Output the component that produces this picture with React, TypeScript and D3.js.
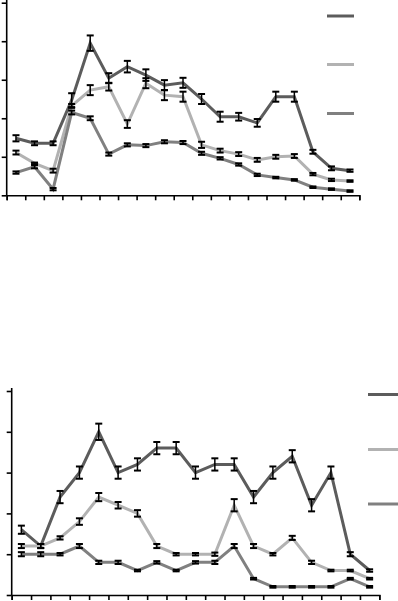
import React, { useEffect, useRef } from "react";
import * as d3 from "d3";

const categories = d3.range(1, 20).map(String);
const tickValues = [0, 1, 2, 3, 4, 5];

// Top chart
const topDark = [1.48, 1.35, 1.35, 2.47, 3.95, 3.04, 3.34, 3.12, 2.86, 2.92, 2.5, 2.04, 2.04, 1.88, 2.56, 2.56, 1.13, 0.7, 0.64];
const topDarkErr = [0.08, 0.05, 0.05, 0.18, 0.2, 0.13, 0.15, 0.15, 0.13, 0.13, 0.13, 0.13, 0.1, 0.1, 0.13, 0.13, 0.05, 0.05, 0.03];
const topLight = [1.11, 0.83, 0.64, 2.32, 2.73, 2.82, 1.85, 2.91, 2.6, 2.56, 1.31, 1.16, 1.07, 0.92, 1.0, 1.02, 0.55, 0.4, 0.37];
const topLightErr = [0.05, 0.02, 0.05, 0.05, 0.13, 0.1, 0.1, 0.13, 0.13, 0.13, 0.08, 0.05, 0.05, 0.05, 0.05, 0.05, 0.03, 0.03, 0.02];
const topMed = [0.59, 0.74, 0.16, 2.15, 2.0, 1.07, 1.31, 1.29, 1.39, 1.37, 1.09, 0.96, 0.8, 0.53, 0.46, 0.4, 0.21, 0.16, 0.11];
const topMedErr = [0.03, 0.04, 0.03, 0.05, 0.05, 0.04, 0.04, 0.04, 0.04, 0.04, 0.04, 0.03, 0.03, 0.03, 0.02, 0.02, 0.02, 0.02, 0.02];

// Bottom chart
const botDark = [1.6, 1.2, 2.4, 3.0, 4.0, 3.0, 3.2, 3.6, 3.6, 3.0, 3.2, 3.2, 2.4, 3.0, 3.4, 2.2, 3.0, 1.0, 0.6];
const botDarkErr = [0.1, 0.05, 0.15, 0.15, 0.2, 0.15, 0.15, 0.15, 0.15, 0.15, 0.15, 0.15, 0.15, 0.15, 0.15, 0.15, 0.15, 0.05, 0.03];
const botLight = [1.2, 1.2, 1.4, 1.8, 2.4, 2.2, 2.0, 1.2, 1.0, 1.0, 1.0, 2.2, 1.2, 1.0, 1.4, 0.8, 0.6, 0.6, 0.4];
const botLightErr = [0.05, 0.05, 0.04, 0.08, 0.1, 0.08, 0.08, 0.05, 0.03, 0.03, 0.04, 0.15, 0.05, 0.03, 0.05, 0.04, 0.02, 0.02, 0.02];
const botMed = [1.0, 1.0, 1.0, 1.2, 0.8, 0.8, 0.6, 0.8, 0.6, 0.8, 0.8, 1.2, 0.4, 0.2, 0.2, 0.2, 0.2, 0.4, 0.2];
const botMedErr = [0.05, 0.05, 0.03, 0.05, 0.04, 0.04, 0.02, 0.03, 0.02, 0.03, 0.04, 0.05, 0.02, 0.02, 0.02, 0.02, 0.02, 0.02, 0.02];

const DARK = "#5c5c5c";
const LIGHT = "#b2b2b2";
const MED = "#808080";

type Series = { values: number[]; err: number[]; color: string };

type PanelProps = {
  x0: number; x1: number; yTop: number; yBottom: number;
  series: Series[];
  legendX0: number; legendX1: number; legendYs: number[];
};

function Panel({ x0, x1, yTop, yBottom, series, legendX0, legendX1, legendYs }: PanelProps) {
  const xAxisRef = useRef<SVGGElement>(null);
  const yAxisRef = useRef<SVGGElement>(null);
  const x = d3.scaleBand<string>().domain(categories).range([x0, x1]).padding(0);
  const xTicks = d3.scaleLinear().domain([0, categories.length]).range([x0, x1]);
  const y = d3.scaleLinear().domain([0, 5]).range([yBottom, yTop]);
  const cx = (i: number) => (x(categories[i]) as number) + x.bandwidth() / 2;

  useEffect(() => {
    const gx = d3.select(xAxisRef.current!);
    gx.call(
      d3.axisBottom(xTicks).tickValues(d3.range(categories.length + 1)).tickSize(5).tickFormat(() => "")
    );
    gx.selectAll("path,line").attr("stroke", "#000").attr("stroke-width", 1.6);
    const gy = d3.select(yAxisRef.current!);
    gy.call(d3.axisLeft(y).tickValues(tickValues).tickSize(5).tickFormat(() => ""));
    gy.selectAll("path,line").attr("stroke", "#000").attr("stroke-width", 1.6);
    gy.select("path").attr("d", `M0,${yBottom}V${yTop - 3}`);
  }, []);

  const line = d3.line<number>().x((_, i) => cx(i)).y((d) => y(d));

  return (
    <g>
      {series.map((s, si) => (
        <g key={si}>
          <path d={line(s.values) || ""} fill="none" stroke={s.color} strokeWidth={3} strokeLinejoin="miter" />
        </g>
      ))}
      {series.map((s, si) => (
        <g key={"e" + si}>
          {s.values.map((v, i) => {
            const xc = cx(i);
            const ya = y(v + s.err[i]);
            const yb = y(v - s.err[i]);
            return (
              <g key={i} stroke="#000">
                <line x1={xc} x2={xc} y1={ya} y2={yb} strokeWidth={1.5} />
                <line x1={xc - 3.5} x2={xc + 3.5} y1={ya} y2={ya} strokeWidth={2} />
                <line x1={xc - 3.5} x2={xc + 3.5} y1={yb} y2={yb} strokeWidth={2} />
              </g>
            );
          })}
        </g>
      ))}
      {series.map((s, si) => (
        <line key={"l" + si} x1={legendX0} x2={legendX1} y1={legendYs[si]} y2={legendYs[si]} stroke={s.color} strokeWidth={3} />
      ))}
      <g ref={xAxisRef} transform={`translate(0,${yBottom})`} />
      <g ref={yAxisRef} transform={`translate(${x0},0)`} />
    </g>
  );
}

export default function App() {
  return (
    <svg width={398} height={601} style={{ position: "absolute", left: 0, top: 0, background: "#fff" }}>
      <rect width={398} height={601} fill="#fff" />
      <Panel
        x0={6.7} x1={359.3} yTop={2.7} yBottom={195.3}
        series={[
          { values: topDark, err: topDarkErr, color: DARK },
          { values: topLight, err: topLightErr, color: LIGHT },
          { values: topMed, err: topMedErr, color: MED },
        ]}
        legendX0={327} legendX1={354} legendYs={[16, 64.5, 113.5]}
      />
      <Panel
        x0={11.7} x1={379.3} yTop={391} yBottom={595}
        series={[
          { values: botDark, err: botDarkErr, color: DARK },
          { values: botLight, err: botLightErr, color: LIGHT },
          { values: botMed, err: botMedErr, color: MED },
        ]}
        legendX0={368} legendX1={398} legendYs={[394.5, 449.5, 504]}
      />
    </svg>
  );
}
